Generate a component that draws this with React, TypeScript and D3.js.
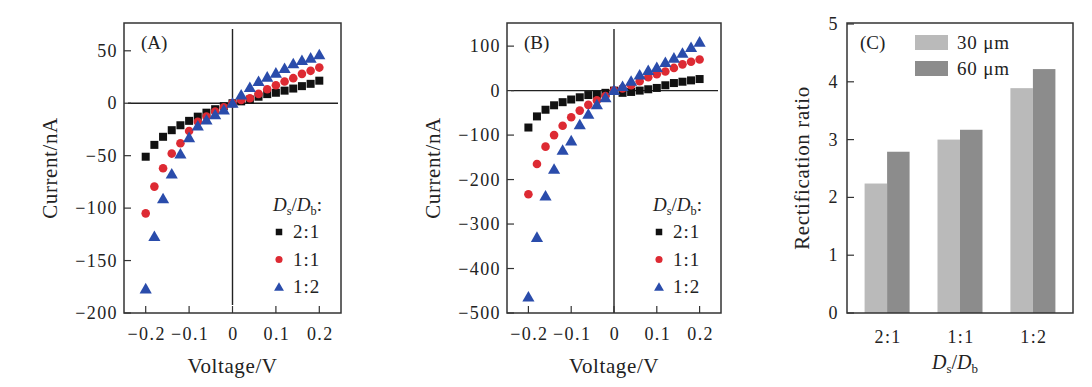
import React, { useEffect, useRef } from 'react';
import * as d3 from 'd3';

// sweep voltage (V)
const voltage = [-0.2, -0.18, -0.16, -0.14, -0.12, -0.1, -0.08, -0.06, -0.04, -0.02, 0, 0.02, 0.04, 0.06, 0.08, 0.1, 0.12, 0.14, 0.16, 0.18, 0.2];

// panel A current (nA)
const a21 = [-51, -39.7, -32, -25.7, -21, -16.8, -12.8, -9, -5.7, -2.8, 0, 1.8, 3.5, 6.2, 8.7, 10, 12, 14, 16.3, 18.5, 21.5];
const a11 = [-105, -79.5, -62, -48, -38.2, -26.5, -17.6, -12.8, -8, -3.8, 0, 3.2, 4.8, 8.9, 13.4, 17.2, 20.7, 23.9, 28, 30.9, 34];
const a12 = [-177, -127, -91, -67.5, -48.5, -32.8, -21.7, -16, -11, -6.4, 0, 7.9, 15, 20.7, 24.9, 28.7, 33.1, 37.6, 40.7, 43, 46.2];

// panel B current (nA)
const b21 = [-83, -58, -43, -33, -26, -20, -15, -10, -9, -5, 0, -5, -3, 0, 3, 6, 12, 17, 20, 23, 26];
const b11 = [-233, -165, -126, -100, -79, -60, -45, -32, -22, -12, 0, 5, 12, 21, 30, 37, 43, 51, 59, 65, 70];
const b12 = [-464, -330, -237, -177, -134, -113, -77, -53, -32, -16, 0, 9, 21, 35, 45, 52, 63, 73, 84, 97, 109];

const xTicks = [-0.2, -0.1, 0, 0.1, 0.2];
const aTicks = [-200, -150, -100, -50, 0, 50];
const bTicks = [-500, -400, -300, -200, -100, 0, 100];

// panel C
const ratios = ['2:1', '1:1', '1:2'];
const rect30 = [2.24, 3.0, 3.89];
const rect60 = [2.79, 3.17, 4.22];
const cTicks = [0, 1, 2, 3, 4, 5];
const widths = ['30 μm', '60 μm'];

const FONT = '"Liberation Serif", "DejaVu Serif", serif';
const FRAME = '#333';
const INK = '#222';
const TICK_FS = 18;
const TITLE_FS = 21;
const seriesStyle = [
    { name: '2:1', shape: 'square', color: '#111111' },
    { name: '1:1', shape: 'circle', color: '#dd2a33' },
    { name: '1:2', shape: 'triangle', color: '#2a4cab' },
];

function addRatioLabel(g, x, y, size, colon) {
    const t = g.append('text').attr('x', x).attr('y', y).attr('font-size', size).attr('font-family', FONT).attr('fill', INK);
    t.append('tspan').attr('font-style', 'italic').text('D');
    t.append('tspan').attr('font-size', size * 0.65).attr('dy', 4).text('s');
    t.append('tspan').attr('dy', -4).text('/');
    t.append('tspan').attr('font-style', 'italic').text('D');
    t.append('tspan').attr('font-size', size * 0.65).attr('dy', 4).text('b');
    if (colon) t.append('tspan').attr('dy', -4).text(':');
    return t;
}

function drawMarker(g, shape, cx, cy, color, s) {
    if (shape === 'square') {
        g.append('rect').attr('x', cx - s / 2).attr('y', cy - s / 2).attr('width', s).attr('height', s).attr('fill', color);
    } else if (shape === 'circle') {
        g.append('circle').attr('cx', cx).attr('cy', cy).attr('r', s / 2 + 0.3).attr('fill', color);
    } else {
        const sym = d3.symbol().type(d3.symbolTriangle).size(s * s);
        g.append('path').attr('d', sym()).attr('transform', `translate(${cx},${cy + 1})`).attr('fill', color);
    }
}

function tickText(g, x, y, anchor, label) {
    return g.append('text').attr('x', x).attr('y', y).attr('text-anchor', anchor)
        .attr('font-size', TICK_FS).attr('letter-spacing', 1.4).attr('font-family', FONT).attr('fill', INK).text(label);
}

function ivPanel(svg, opts) {
    const { left, right, top, bottom, yDomain, yTicks, series, label, titleX, vEnd } = opts;
    const g = svg.append('g');
    const x = d3.scaleLinear().domain([-0.25, 0.25]).range([left, right]);
    const y = d3.scaleLinear().domain(yDomain).range([bottom, top]);

    // zero lines
    g.append('line').attr('x1', left + 4).attr('x2', right - 3).attr('y1', y(0)).attr('y2', y(0)).attr('stroke', INK).attr('stroke-width', 1.4);
    g.append('line').attr('x1', x(0)).attr('x2', x(0)).attr('y1', top + 6).attr('y2', bottom - vEnd).attr('stroke', INK).attr('stroke-width', 1.4);

    // points
    series.forEach((vals, i) => {
        const st = seriesStyle[i];
        vals.forEach((v, j) => drawMarker(g, st.shape, x(voltage[j]), y(v), st.color, 8));
    });

    // frame
    g.append('rect').attr('x', left).attr('y', top).attr('width', right - left).attr('height', bottom - top)
        .attr('fill', 'none').attr('stroke', FRAME).attr('stroke-width', 1.5);

    // ticks
    const fmt = d3.format('');
    yTicks.forEach((t) => {
        g.append('line').attr('x1', left).attr('x2', left + 7).attr('y1', y(t)).attr('y2', y(t)).attr('stroke', FRAME).attr('stroke-width', 1.2);
        tickText(g, left - 6, y(t) + 6, 'end', fmt(t));
    });
    xTicks.forEach((t) => {
        g.append('line').attr('x1', x(t)).attr('x2', x(t)).attr('y1', bottom).attr('y2', bottom - 7).attr('stroke', FRAME).attr('stroke-width', 1.2);
        tickText(g, x(t) + 1, 340, 'middle', fmt(t));
    });

    g.append('text').attr('x', (left + right) / 2).attr('y', 373).attr('text-anchor', 'middle').attr('letter-spacing', 0.6)
        .attr('font-size', TITLE_FS).attr('font-family', FONT).attr('fill', INK).text('Voltage/V');
    g.append('text').attr('transform', `translate(${titleX},${(top + bottom) / 2}) rotate(-90)`).attr('dy', '0.35em')
        .attr('text-anchor', 'middle').attr('letter-spacing', 0.6).attr('font-size', TITLE_FS).attr('font-family', FONT).attr('fill', INK).text('Current/nA');
    g.append('text').attr('x', left + 17).attr('y', 49).attr('font-size', 19).attr('font-family', FONT).attr('fill', INK).text(label);

    // legend
    addRatioLabel(g, right - 68, 211, 19, true);
    seriesStyle.forEach((st, i) => {
        const cy = 232 + i * 27.5;
        drawMarker(g, st.shape, right - 62, cy, st.color, 6.5);
        g.append('text').attr('x', right - 48).attr('y', cy + 6).attr('font-size', 19).attr('letter-spacing', 1)
            .attr('font-family', FONT).attr('fill', INK).text(st.name);
    });
}

function barPanel(svg) {
    const left = 847, right = 1073, top = 23, bottom = 313;
    const g = svg.append('g');
    const x = d3.scalePoint().domain(ratios).range([left, right]).padding(0.55);
    const y = d3.scaleLinear().domain([0, 5]).range([bottom, top + 1]);
    const bw = 22.5;
    const colors = ['#bababa', '#8c8c8c'];

    ratios.forEach((r, i) => {
        g.append('rect').attr('x', x(r) - bw).attr('y', y(rect30[i])).attr('width', bw).attr('height', y(0) - y(rect30[i])).attr('fill', colors[0]);
        g.append('rect').attr('x', x(r)).attr('y', y(rect60[i])).attr('width', bw).attr('height', y(0) - y(rect60[i])).attr('fill', colors[1]);
        tickText(g, x(r) + 1, 343, 'middle', r);
    });

    g.append('rect').attr('x', left).attr('y', top).attr('width', right - left).attr('height', bottom - top)
        .attr('fill', 'none').attr('stroke', FRAME).attr('stroke-width', 1.5);

    cTicks.forEach((t) => {
        g.append('line').attr('x1', left).attr('x2', left + 7).attr('y1', y(t)).attr('y2', y(t)).attr('stroke', FRAME).attr('stroke-width', 1.2);
        tickText(g, left - 8, y(t) + 6, 'end', t);
    });

    g.append('text').attr('transform', `translate(802,${(top + bottom) / 2}) rotate(-90)`).attr('dy', '0.35em').attr('letter-spacing', 0.6)
        .attr('text-anchor', 'middle').attr('font-size', TITLE_FS).attr('font-family', FONT).attr('fill', INK).text('Rectification ratio');
    const t = addRatioLabel(g, 955, 369, 20, false);
    t.attr('text-anchor', 'middle');

    g.append('text').attr('x', 860).attr('y', 49).attr('font-size', 19).attr('font-family', FONT).attr('fill', INK).text('(C)');
    widths.forEach((w, i) => {
        g.append('rect').attr('x', 915).attr('y', 35 + i * 26).attr('width', 33).attr('height', 15).attr('fill', colors[i]);
        g.append('text').attr('x', 957).attr('y', 49 + i * 26).attr('font-size', 19).attr('letter-spacing', 0.8)
            .attr('font-family', FONT).attr('fill', INK).text(w);
    });
}

export default function App() {
    const svgRef = useRef(null);

    useEffect(() => {
        const svg = d3.select(svgRef.current);
        svg.selectAll('*').remove();
        svg.append('rect').attr('width', 1092).attr('height', 387).attr('fill', '#fff');

        ivPanel(svg, {
            left: 124, right: 341, top: 23, bottom: 313,
            yDomain: [-200, 76.5], yTicks: aTicks, series: [a21, a11, a12], label: '(A)', titleX: 50, vEnd: 8,
        });
        ivPanel(svg, {
            left: 507, right: 721, top: 23, bottom: 313,
            yDomain: [-500, 152], yTicks: bTicks, series: [b21, b11, b12], label: '(B)', titleX: 433, vEnd: 0,
        });
        barPanel(svg);
    }, []);

    return (
        <svg ref={svgRef} width={1092} height={387} style={{ position: 'absolute', left: 0, top: 0 }} />
    );
}
